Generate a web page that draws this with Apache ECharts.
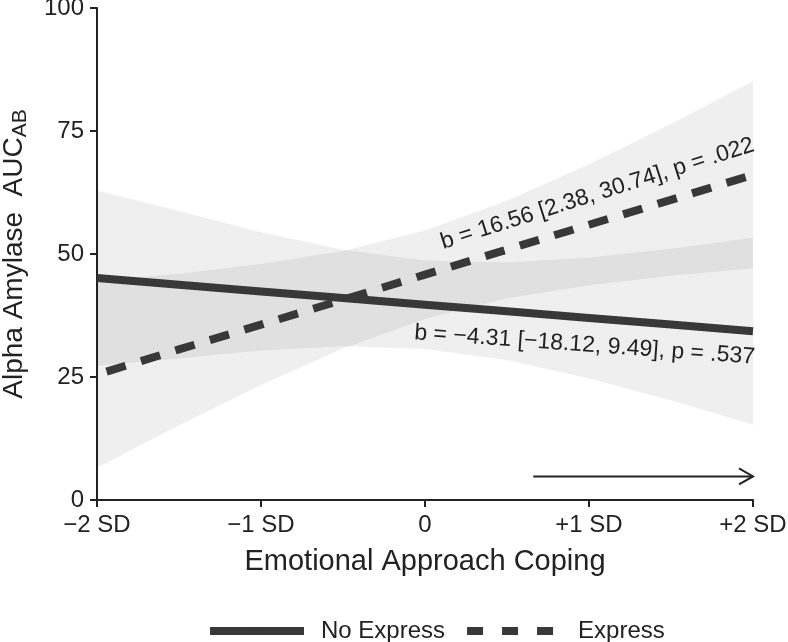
<!DOCTYPE html>
<html>
<head>
<meta charset="utf-8">
<script src="https://cdn.jsdelivr.net/npm/echarts@6/dist/echarts.min.js"></script>
<style>html,body{margin:0;padding:0;background:#fff}#c{width:788px;height:642px}</style>
</head>
<body>
<div id="c"></div>
<script>
// ---- data ----
const xLevels = [-2, -1.5, -1, -0.5, 0, 0.5, 1, 1.5, 2];
const xTickLabels = {'-2': '\u22122 SD', '-1': '\u22121 SD', '0': '0', '1': '+1 SD', '2': '+2 SD'};
const noExpressFit   = [45.1, 43.75, 42.4, 41.05, 39.7, 38.35, 37.0, 35.65, 34.3];
const noExpressLower = [27.3, 28.75, 30.4, 31.25, 30.7, 28.45, 24.7, 20.25, 15.3];
const noExpressUpper = [62.9, 58.75, 54.4, 50.85, 48.7, 48.25, 49.3, 51.05, 53.3];
const expressFit     = [25.5, 30.6, 35.65, 40.7, 45.8, 50.9, 55.95, 61.0, 66.1];
const expressLower   = [6.5, 15.2, 23.35, 30.8, 36.8, 41.0, 43.65, 45.6, 47.1];
const expressUpper   = [44.5, 46.0, 47.95, 50.6, 54.8, 60.8, 68.25, 76.4, 85.1];
const seriesNames = ['No Express', 'Express'];
const expressLabel = 'b = 16.56 [2.38, 30.74], p = .022';
const noExpressLabel = 'b = \u22124.31 [\u221218.12, 9.49], p = .537';
const expressLabelAnchor = [0.12, 50.0];
const noExpressLabelAnchor = [-0.06, 36.3];
const arrowStart = [0.66, 4.8];
const arrowEnd = [2, 4.8];

const FONT = 'Liberation Sans, Arial, sans-serif';
const INK = '#222';
const LINE = '#383838';

function pts(ys) { return xLevels.map((x, i) => [x, ys[i]]); }

function bandSeries(lower, upper) {
  const data = xLevels.map((x, i) => [x, lower[i], upper[i]]);
  return {
    type: 'custom',
    z: 1,
    silent: true,
    data: data,
    encode: {x: 0, y: [1, 2]},
    renderItem: function (params, api) {
      if (params.dataIndex !== 0) return null;
      const top = data.map(d => api.coord([d[0], d[2]]));
      const bot = data.map(d => api.coord([d[0], d[1]])).reverse();
      return {
        type: 'polygon',
        shape: {points: top.concat(bot)},
        style: {fill: 'rgba(0,0,0,0.062)'}
      };
    }
  };
}

const chart = echarts.init(document.getElementById('c'), null, {renderer: 'canvas'});
chart.setOption({
  animation: false,
  backgroundColor: '#fff',
  grid: {left: 97, right: 35, top: 8, bottom: 142, containLabel: false, outerBoundsMode: 'none'},
  xAxis: {
    type: 'value', min: -2, max: 2, interval: 1,
    name: 'Emotional Approach Coping', nameLocation: 'middle', nameGap: 47,
    nameTextStyle: {fontSize: 29, color: INK, fontFamily: FONT},
    axisLine: {show: true, onZero: false, lineStyle: {color: INK, width: 2}},
    axisTick: {show: true, length: 7, lineStyle: {color: INK, width: 2}},
    splitLine: {show: false},
    axisLabel: {fontSize: 24, color: INK, fontFamily: FONT, margin: 13,
      formatter: v => xTickLabels[String(v)] || ''}
  },
  yAxis: {
    type: 'value', min: 0, max: 100, interval: 25,
    name: '{a|Alpha Amylase  AUC}{b|AB}', nameLocation: 'middle', nameGap: 66,
    nameTextStyle: {color: INK, fontFamily: FONT, fontSize: 28,
      rich: {
        a: {fontSize: 28, color: INK, fontFamily: FONT},
        b: {fontSize: 21, color: INK, fontFamily: FONT, padding: [12, 0, 0, 0]}
      }},
    axisLine: {show: true, onZero: false, lineStyle: {color: INK, width: 2}},
    axisTick: {show: true, length: 7, lineStyle: {color: INK, width: 2}},
    splitLine: {show: false},
    axisLabel: {fontSize: 24, color: INK, fontFamily: FONT, margin: 13}
  },
  legend: {
    left: 201, top: 614,
    itemWidth: 94, itemHeight: 9, itemGap: 18,
    textStyle: {fontSize: 24, color: INK, fontFamily: FONT, padding: [0, 0, 0, 12]},
    data: [
      {name: seriesNames[0], lineStyle: {width: 8, type: 'solid'}},
      {name: seriesNames[1], lineStyle: {width: 8, type: [16, 19], dashOffset: 0}}
    ]
  },
  series: [
    bandSeries(noExpressLower, noExpressUpper),
    bandSeries(expressLower, expressUpper),
    {
      name: seriesNames[0], type: 'line', z: 3, symbol: 'none', data: pts(noExpressFit),
      lineStyle: {color: LINE, width: 8, cap: 'butt'}, itemStyle: {color: LINE}
    },
    {
      name: seriesNames[1], type: 'line', z: 4, symbol: 'none', data: pts(expressFit),
      lineStyle: {color: LINE, width: 8, type: [20, 16], dashOffset: 26, cap: 'butt'}, itemStyle: {color: LINE}
    }
  ]
});

const toPx = p => chart.convertToPixel({gridIndex: 0}, p);
const eA = toPx(expressLabelAnchor);
const nA = toPx(noExpressLabelAnchor);
const a0 = toPx(arrowStart);
const a1 = toPx(arrowEnd);
chart.setOption({
  graphic: [
    {type: 'text', x: eA[0], y: eA[1], rotation: 17.5 * Math.PI / 180, z: 10,
      style: {text: expressLabel, fontSize: 23, fontFamily: FONT, fill: INK, align: 'left', verticalAlign: 'bottom'}},
    {type: 'text', x: nA[0], y: nA[1], rotation: -4.1 * Math.PI / 180, z: 10,
      style: {text: noExpressLabel, fontSize: 23, fontFamily: FONT, fill: INK, align: 'left', verticalAlign: 'top'}},
    {type: 'line', z: 10, shape: {x1: a0[0], y1: a0[1], x2: a1[0], y2: a1[1]},
      style: {stroke: INK, lineWidth: 2}},
    {type: 'polyline', z: 10, shape: {points: [[a1[0] - 14, a1[1] - 8], [a1[0], a1[1]], [a1[0] - 14, a1[1] + 8]]},
      style: {stroke: INK, lineWidth: 2, fill: null}}
  ]
});
</script>
</body>
</html>
